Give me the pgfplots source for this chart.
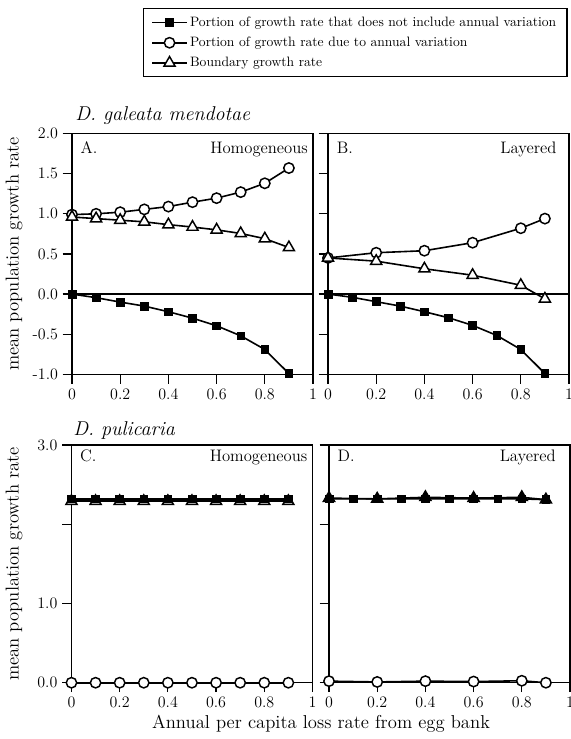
\documentclass[border=0pt]{standalone}
\usepackage{pgfplots}
\pgfplotsset{compat=1.18}
\tikzset{plab/.style={font=\fontsize{12.5}{14}\selectfont, inner sep=0pt}}
\begin{document}
\begin{tikzpicture}
\useasboundingbox (0,0) rectangle (428.25pt,554.25pt);
\pgfplotsset{
 panel/.style={
   scale only axis, width=180.75pt, anchor=south west,
   xmin=0,xmax=1, xtick={0,0.2,0.4,0.6,0.8,1}, xticklabels={0,0.2,0.4,0.6,0.8,1},
   tick align=outside, xtick pos=left, ytick pos=left, major tick length=7pt,
   axis line style={line width=1.1pt},
   every tick/.style={line width=0.9pt, black},
   tick label style={font=\fontsize{12}{14}\selectfont},
   clip=false,
 },
 sq/.style={line width=1.2pt, black, mark=square*, mark size=2.9pt, mark options={fill=black, line width=0.5pt}},
 ci/.style={line width=1.2pt, black, mark=*, mark size=3.9pt, mark options={fill=white, line width=1.1pt}},
 tr/.style={line width=1.2pt, black, mark=triangle*, mark size=4.8pt, mark options={fill=white, line width=1.1pt}},
 trf/.style={line width=1.2pt, black, mark=triangle*, mark size=4.8pt, mark options={fill=black, line width=1.1pt}},
}
% Panel A
\begin{axis}[panel, height=180.6pt, at={(54pt,273.5pt)},
  ymin=-1, ymax=2, ytick={-1,-0.5,0,0.5,1,1.5,2},
  yticklabels={-1.0,-0.5,0.0,0.5,1.0,1.5,2.0},
  legend cell align=left,
  legend image code/.code={\draw[mark repeat=2,mark phase=2,#1] plot coordinates {(0cm,0cm) (0.45cm,0cm) (0.9cm,0cm)};},
  legend style={at={(axis description cs:0.2946,1.5212)}, anchor=north west, draw=black, line width=1pt,
     font=\fontsize{10.2}{12}\selectfont, row sep=2.5pt, inner xsep=6pt, inner ysep=4pt},
]
\addplot[forget plot, line width=1pt] coordinates {(0,0) (1,0)};
\addplot[sq] coordinates {(0,0) (0.1,-0.045) (0.2,-0.10) (0.3,-0.15) (0.4,-0.22) (0.5,-0.30) (0.6,-0.395) (0.7,-0.52) (0.8,-0.69) (0.9,-0.99)};
\addlegendentry{Portion of growth rate that does not include annual variation}
\addplot[ci] coordinates {(0,0.99) (0.1,1.0) (0.2,1.02) (0.3,1.055) (0.4,1.09) (0.5,1.145) (0.6,1.195) (0.7,1.27) (0.8,1.38) (0.9,1.57)};
\addlegendentry{Portion of growth rate due to annual variation}
\addplot[tr] coordinates {(0,0.96) (0.1,0.94) (0.2,0.92) (0.3,0.90) (0.4,0.865) (0.5,0.835) (0.6,0.80) (0.7,0.755) (0.8,0.69) (0.9,0.58)};
\addlegendentry{Boundary growth rate}
\node[plab, anchor=base west] at (rel axis cs:0.035,0.919) {A.};
\node[plab, anchor=base east] at (rel axis cs:0.98,0.919) {Homogeneous};
\end{axis}
% Panel B
\begin{axis}[panel, height=180.6pt, at={(246pt,273.5pt)},
  ymin=-1, ymax=2, ytick={-1,-0.5,0,0.5,1,1.5,2}, yticklabels={},
]
\addplot[line width=1pt] coordinates {(0,0) (1,0)};
\addplot[sq] coordinates {(0,0) (0.1,-0.04) (0.2,-0.095) (0.3,-0.15) (0.4,-0.22) (0.5,-0.295) (0.6,-0.39) (0.7,-0.515) (0.8,-0.69) (0.9,-0.99)};
\addplot[ci] coordinates {(0,0.45) (0.2,0.515) (0.4,0.54) (0.6,0.64) (0.8,0.82) (0.9,0.94)};
\addplot[tr] coordinates {(0,0.45) (0.2,0.41) (0.4,0.315) (0.6,0.235) (0.8,0.11) (0.9,-0.06)};
\node[plab, anchor=base west] at (rel axis cs:0.036,0.917) {B.};
\node[plab, anchor=base east] at (rel axis cs:0.949,0.917) {Layered};
\end{axis}
% Panel C
\begin{axis}[panel, height=178.3pt, at={(53.6pt,42.2pt)},
  ymin=0, ymax=3, ytick={0,1,2,3}, yticklabels={0.0,1.0,,3.0},
]
\addplot[ci] coordinates {(0,0) (0.1,0) (0.2,0) (0.3,0) (0.4,0) (0.5,0) (0.6,0) (0.7,0) (0.8,0) (0.9,0)};
\addplot[tr] coordinates {(0,2.29) (0.1,2.29) (0.2,2.29) (0.3,2.29) (0.4,2.29) (0.5,2.29) (0.6,2.29) (0.7,2.29) (0.8,2.29) (0.9,2.29)};
\addplot[sq] coordinates {(0,2.32) (0.1,2.32) (0.2,2.32) (0.3,2.32) (0.4,2.32) (0.5,2.32) (0.6,2.32) (0.7,2.32) (0.8,2.32) (0.9,2.32)};
\node[plab, anchor=base west] at (rel axis cs:0.035,0.93) {C.};
\node[plab, anchor=base east] at (rel axis cs:0.98,0.93) {Homogeneous};
\end{axis}
% Panel D
\begin{axis}[panel, height=178.3pt, at={(246.75pt,42.2pt)},
  ymin=0, ymax=3, ytick={0,1,2,3}, yticklabels={},
]
\addplot[ci] coordinates {(0,0.02) (0.2,0.01) (0.4,0.02) (0.6,0.015) (0.8,0.025) (0.9,0)};
\addplot[sq] coordinates {(0,2.32) (0.1,2.32) (0.2,2.32) (0.3,2.32) (0.4,2.32) (0.5,2.32) (0.6,2.32) (0.7,2.32) (0.8,2.32) (0.9,2.31)};
\addplot[trf] coordinates {(0,2.33) (0.2,2.32) (0.4,2.34) (0.6,2.33) (0.8,2.34) (0.9,2.31)};
\node[plab, anchor=base west] at (rel axis cs:0.035,0.93) {D.};
\node[plab, anchor=base east] at (rel axis cs:0.942,0.93) {Layered};
\end{axis}
% titles and labels
\node[anchor=base west, inner sep=0pt, font=\fontsize{15}{17}\selectfont\itshape] at (56.25pt,463.5pt) {D. galeata mendotae};
\node[anchor=base west, inner sep=0pt, font=\fontsize{15}{17}\selectfont\itshape] at (54.75pt,227.25pt) {D. pulicaria};
\node[rotate=90, font=\fontsize{14}{16}\selectfont] at (10.5pt,363.75pt) {mean population growth rate};
\node[rotate=90, font=\fontsize{14}{16}\selectfont] at (10.5pt,131.25pt) {mean population growth rate};
\node[anchor=base, inner sep=0pt, font=\fontsize{14}{16}\selectfont] at (240.75pt,8.25pt) {Annual per capita loss rate from egg bank};
\end{tikzpicture}
\end{document}
